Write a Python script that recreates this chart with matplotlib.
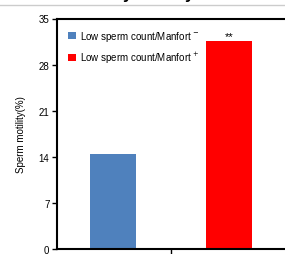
import matplotlib.pyplot as plt
from matplotlib.patches import Patch

plt.rcParams['font.family'] = ['Liberation Sans', 'DejaVu Sans']

# data ------------------
groups = ['Low sperm count/Manfort $^{-}$', 'Low sperm count/Manfort $^{+}$']
motility = [14.4, 31.6]
colors = ['#4F81BD', '#FF0000']
yticks = [0, 7, 14, 21, 28, 35]

fig = plt.figure(figsize=(2.85, 2.55), dpi=100)
ax = fig.add_axes([57 / 285, 5 / 255, 1 - 57 / 285, 230.5 / 255])

x = list(range(len(motility)))
ax.bar(x, motility, width=0.4, color=colors)

ax.set_xlim(-0.48, 1.48)
ax.set_ylim(0, 35)
ax.set_yticks(yticks)
ax.set_xticks([0.5])
ax.set_xticklabels([''])
ax.tick_params(axis='both', direction='out', length=3.5, width=1, labelsize=7, pad=2)
ax.set_ylabel('Sperm motility(%)', fontsize=7, labelpad=9)

for s in ['left', 'top', 'bottom']:
    ax.spines[s].set_linewidth(1.5)
ax.spines['right'].set_visible(False)

# significance
ax.text(1, 32.3, '**', ha='center', va='center', fontsize=8)

handles = [Patch(facecolor=c, edgecolor='none') for c in colors]
ax.legend(handles, groups, loc='upper left', bbox_to_anchor=(0.01, 0.993),
          frameon=False, fontsize=7, handlelength=0.85, handleheight=0.75,
          handletextpad=0.4, labelspacing=0.7)

# cut-off header from the original page
fig.add_artist(plt.Line2D([0, 1], [1 - 6 / 255, 1 - 6 / 255], color='#cccccc', lw=1))
fig.text(123 / 285, 1 + 1 / 255, 'y', fontsize=12, fontweight='bold', va='baseline')
fig.text(185 / 285, 1 + 1 / 255, 'y', fontsize=12, fontweight='bold', va='baseline')

fig.savefig('out.png', dpi=100)
